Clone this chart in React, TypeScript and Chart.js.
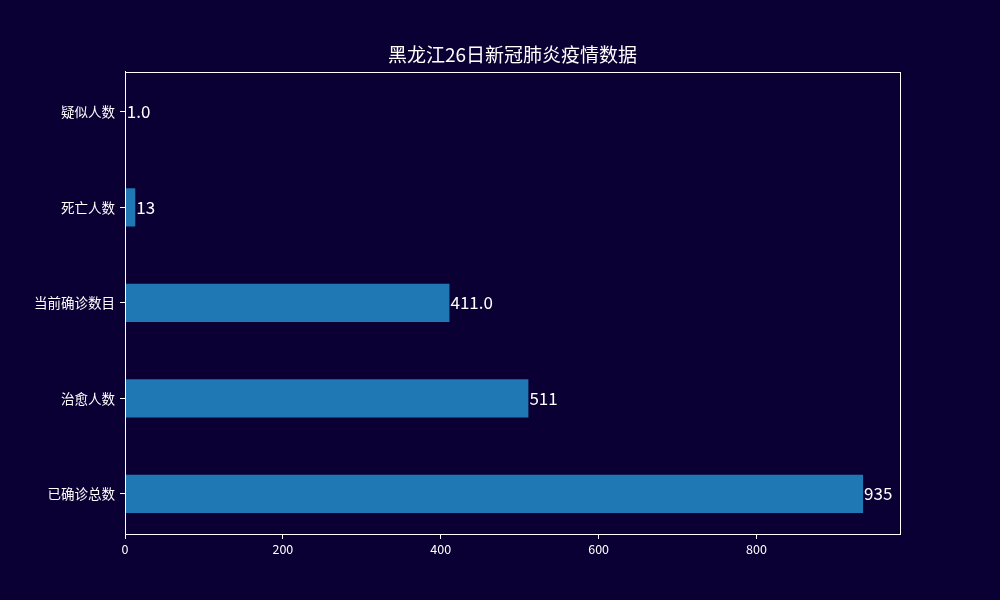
import { useEffect, useRef } from "react";
import { Chart, registerables, type ChartConfiguration, type Plugin } from "chart.js";

Chart.register(...registerables);

// top to bottom, as drawn
const categories = ["疑似人数", "死亡人数", "当前确诊数目", "治愈人数", "已确诊总数"];
const values = [1, 13, 411, 511, 935];
const valueLabels = ["1.0", "13", "411.0", "511", "935"];
const xTicks = [0, 200, 400, 600, 800];

const BG = "#0b0033";
const FG = "#ffffff";
const FONT = "'Noto Sans CJK SC', 'Noto Sans', sans-serif";

const framePlugin: Plugin<"bar"> = {
  id: "frame",
  afterDraw(chart) {
    const { ctx, chartArea } = chart;
    ctx.save();
    ctx.strokeStyle = FG;
    ctx.lineWidth = 1;
    ctx.strokeRect(
      Math.round(chartArea.left) + 0.5,
      Math.round(chartArea.top) + 0.5,
      Math.round(chartArea.right - chartArea.left),
      Math.round(chartArea.bottom - chartArea.top),
    );
    ctx.restore();
  },
};

const valueLabelPlugin: Plugin<"bar"> = {
  id: "valueLabels",
  afterDatasetsDraw(chart) {
    const { ctx } = chart;
    const meta = chart.getDatasetMeta(0);
    ctx.save();
    ctx.fillStyle = FG;
    ctx.font = `17px ${FONT}`;
    ctx.textAlign = "left";
    ctx.textBaseline = "middle";
    meta.data.forEach((bar, i) => {
      ctx.fillText(valueLabels[i], bar.x + 1, bar.y);
    });
    ctx.restore();
  },
};

export default function App() {
  const canvasRef = useRef<HTMLCanvasElement | null>(null);

  useEffect(() => {
    const canvas = canvasRef.current;
    if (!canvas) return;

    const config: ChartConfiguration<"bar"> = {
      type: "bar",
      data: {
        datasets: [
          {
            data: values.map((v, i) => ({ x: v, y: i })),
            backgroundColor: "#1f77b4",
            borderWidth: 0,
            categoryPercentage: 1,
            barPercentage: 0.4,
          },
        ],
      },
      options: {
        indexAxis: "y",
        animation: false,
        responsive: false,
        devicePixelRatio: 1,
        layout: { padding: { left: 25, right: 0, top: 0, bottom: 0 } },
        plugins: {
          legend: { display: false },
          tooltip: { enabled: false },
          title: {
            display: true,
            text: "黑龙江26日新冠肺炎疫情数据",
            color: FG,
            font: { family: FONT, size: 19, weight: "normal" },
            padding: { top: 43, bottom: 6 },
          },
        },
        scales: {
          x: {
            type: "linear",
            min: 0,
            max: Math.max(...values) * 1.05,
            afterBuildTicks(scale) {
              scale.ticks = xTicks.map((value) => ({ value }));
            },
            afterFit(scale) {
              scale.height = 66;
            },
            ticks: {
              color: FG,
              font: { family: FONT, size: 12.5 },
              padding: 3,
              maxRotation: 0,
            },
            grid: { drawOnChartArea: false, drawTicks: true, tickLength: 5, color: FG },
            border: { color: FG },
          },
          y: {
            type: "linear",
            offset: false,
            min: -0.42,
            max: categories.length - 1 + 0.42,
            reverse: true,
            afterBuildTicks(scale) {
              scale.ticks = categories.map((_, i) => ({ value: i }));
            },
            afterFit(scale) {
              scale.width = 100;
            },
            ticks: {
              color: FG,
              font: { family: FONT, size: 13.5 },
              padding: 5,
              callback(value) {
                return categories[Number(value)] ?? "";
              },
            },
            grid: {
              offset: false,
              drawOnChartArea: false,
              drawTicks: true,
              tickLength: 5,
              color: FG,
            },
            border: { color: FG },
          },
          y2: {
            type: "linear",
            position: "right",
            display: true,
            afterFit(scale) {
              scale.width = 100;
            },
            ticks: { display: false },
            grid: { display: false },
            border: { display: false },
          },
        },
      },
      plugins: [framePlugin, valueLabelPlugin],
    };

    const chart = new Chart(canvas, config);
    return () => chart.destroy();
  }, []);

  return (
    <div
      style={{
        position: "fixed",
        left: 0,
        top: 0,
        width: 1000,
        height: 600,
        background: BG,
      }}
    >
      <canvas ref={canvasRef} width={1000} height={600} style={{ display: "block" }} />
    </div>
  );
}
